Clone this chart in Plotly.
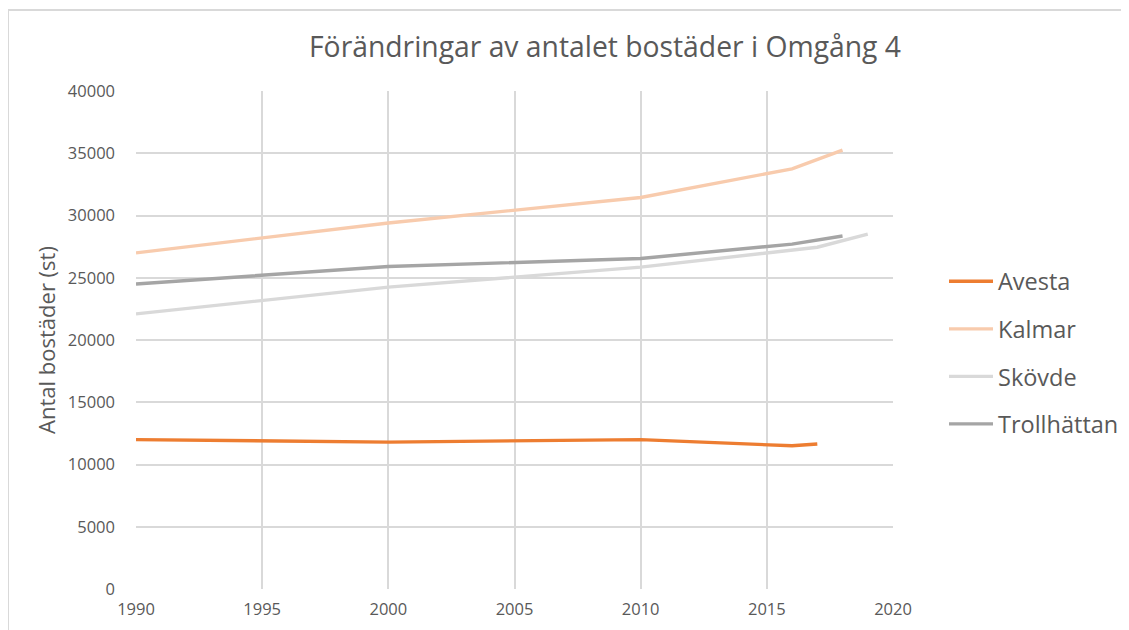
import plotly.graph_objects as go

title_text = "Förändringar av antalet bostäder i Omgång 4"
y_title = "Antal bostäder (st)"

avesta_years = [1990, 2000, 2010, 2016, 2017]
avesta_vals = [12000, 11800, 12000, 11500, 11650]

kalmar_years = [1990, 2000, 2010, 2016, 2018]
kalmar_vals = [27000, 29400, 31450, 33750, 35250]

skovde_years = [1990, 2000, 2010, 2017, 2019]
skovde_vals = [22100, 24250, 25850, 27450, 28500]

troll_years = [1990, 2000, 2010, 2016, 2018]
troll_vals = [24500, 25900, 26550, 27700, 28350]

series = [
    ("Avesta", avesta_years, avesta_vals, "#ED7D31"),
    ("Kalmar", kalmar_years, kalmar_vals, "#F8CBAD"),
    ("Skövde", skovde_years, skovde_vals, "#D9D9D9"),
    ("Trollhättan", troll_years, troll_vals, "#A5A5A5"),
]

x_ticks = [1990, 1995, 2000, 2005, 2010, 2015, 2020]
y_ticks = [0, 5000, 10000, 15000, 20000, 25000, 30000, 35000, 40000]

FONT = "Open Sans"
TXT = "#595959"
GRID = "#D9D9D9"

# page offset (body margin) of 8px
OFF = 8
L, R, T, B = 136 - OFF, 1129 - (893 - OFF), 91 - OFF, 630 - (589 - OFF)
PW = 893 - 136
PH = 589 - 91

fig = go.Figure()
for name, xs, ys, col in series:
    fig.add_trace(go.Scatter(
        x=xs, y=ys, name=name, mode="lines", legendgroup=name,
        line=dict(color=col, width=3.4),
    ))

fig.update_layout(
    width=1129, height=630,
    margin=dict(l=L, r=R, t=T, b=B),
    paper_bgcolor="white", plot_bgcolor="white",
    font=dict(family=FONT, color=TXT),
    title=dict(text=title_text, x=(605 - OFF) / 1129, xanchor="center",
               y=1 - (47 - OFF) / 630, yanchor="middle",
               font=dict(family=FONT, size=28.3, color=TXT)),
    showlegend=True,
    legend=dict(x=(944 - 136) / PW, xanchor="left",
                y=(589 - 353) / PH, yanchor="middle",
                font=dict(family=FONT, size=23.5, color=TXT),
                tracegroupgap=14, itemwidth=44, bgcolor="rgba(0,0,0,0)"),
)

fig.update_xaxes(
    range=[1990, 2020], tickvals=x_ticks, ticktext=[str(t) for t in x_ticks],
    showgrid=True, gridcolor=GRID, gridwidth=1.5,
    showline=False, zeroline=False, ticks="",
    tickfont=dict(family=FONT, size=16.5, color=TXT), ticklabelstandoff=8,
)
fig.update_yaxes(
    range=[0, 40000], tickvals=y_ticks, ticktext=[str(t) for t in y_ticks],
    showgrid=True, gridcolor=GRID, gridwidth=1.5,
    showline=False, zeroline=False, ticks="",
    tickfont=dict(family=FONT, size=16.5, color=TXT), ticklabelstandoff=20,
    title=dict(text=y_title, font=dict(family=FONT, size=22, color=TXT), standoff=6),
)

# outer chart frame (top and left edges visible in the reference)
fig.add_shape(type="line", xref="paper", yref="paper",
              x0=(8 - 136) / PW, x1=(1140 - 136) / PW,
              y0=(589 - 10) / PH, y1=(589 - 10) / PH,
              line=dict(color=GRID, width=2), layer="below")
fig.add_shape(type="line", xref="paper", yref="paper",
              x0=(8 - 136) / PW, x1=(8 - 136) / PW,
              y0=(589 - 10) / PH, y1=(589 - 650) / PH,
              line=dict(color=GRID, width=2), layer="below")

fig.write_html("out.html")
